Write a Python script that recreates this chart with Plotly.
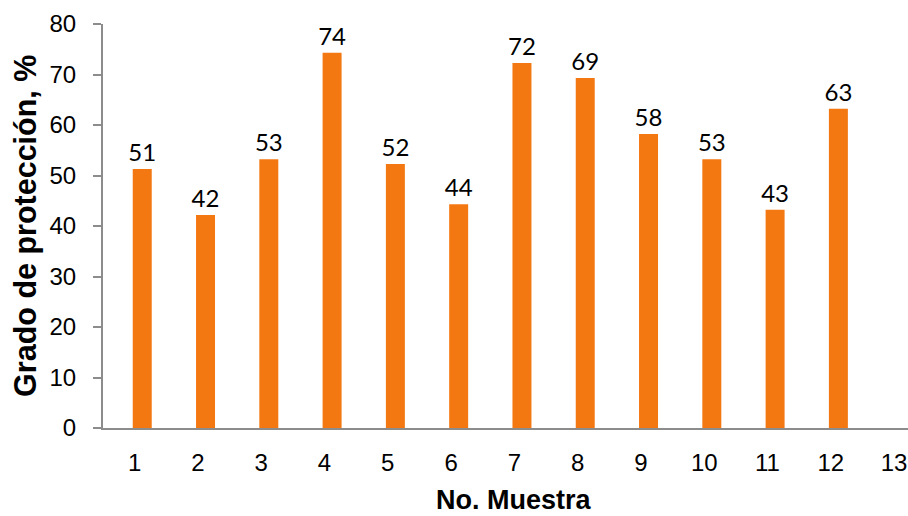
import plotly.graph_objects as go

categories = [1, 2, 3, 4, 5, 6, 7, 8, 9, 10, 11, 12, 13]
tick_labels = ["1", "2", "3", "4", "5", "6", "7", "8", "9", "10", "11", "12", "13"]
values = [51.3, 42.2, 53.2, 74.3, 52.3, 44.3, 72.3, 69.3, 58.2, 53.2, 43.2, 63.2, None]
value_labels = ["51", "42", "53", "74", "52", "44", "72", "69", "58", "53", "43", "63", ""]
y_ticks = [0, 10, 20, 30, 40, 50, 60, 70, 80]

ORANGE = "#F47812"
AXIS = "#8C8C8C"

fig = go.Figure()
fig.add_trace(go.Bar(
    x=categories,
    y=values,
    width=0.3,
    offset=-0.03,
    marker=dict(color=ORANGE, line=dict(width=0)),
    text=value_labels,
    textposition="outside",
    constraintext="none",
    cliponaxis=False,
    textfont=dict(family="Lato", size=24, color="#000000"),
))

fig.update_layout(
    width=908, height=516,
    margin=dict(l=103, r=0, t=24, b=88),
    paper_bgcolor="white", plot_bgcolor="white",
    showlegend=False,
    font=dict(family="Liberation Sans, Arial", color="#000000"),
    xaxis=dict(
        range=[0.5, 13.22],
        tickvals=categories, ticktext=tick_labels,
        showgrid=False, zeroline=False,
        showline=True, linecolor=AXIS, linewidth=2,
        ticks="", ticklabelstandoff=12,
        tickfont=dict(family="Liberation Sans, Arial", size=24, color="#000000"),
    ),
    yaxis=dict(
        range=[0, 80],
        tickvals=y_ticks,
        showgrid=False, zeroline=False,
        showline=True, linecolor=AXIS, linewidth=2,
        ticks="outside", ticklen=8, tickwidth=2, tickcolor=AXIS,
        ticklabelstandoff=12,
        tickfont=dict(family="Liberation Sans, Arial", size=24, color="#000000"),
    ),
    annotations=[
        dict(text="<b>No. Muestra</b>", x=7, xref="x", y=-0.177, yref="paper",
             xanchor="center", yanchor="middle", showarrow=False,
             font=dict(family="Liberation Sans, Arial", size=27, color="#000000")),
        dict(text="<b>Grado de protección, %</b>", x=-0.097, xref="paper", y=0.5, yref="paper",
             xanchor="center", yanchor="middle", textangle=-90, showarrow=False,
             font=dict(family="Liberation Sans, Arial", size=30.5, color="#000000")),
    ],
)

fig.write_html("out.html")
